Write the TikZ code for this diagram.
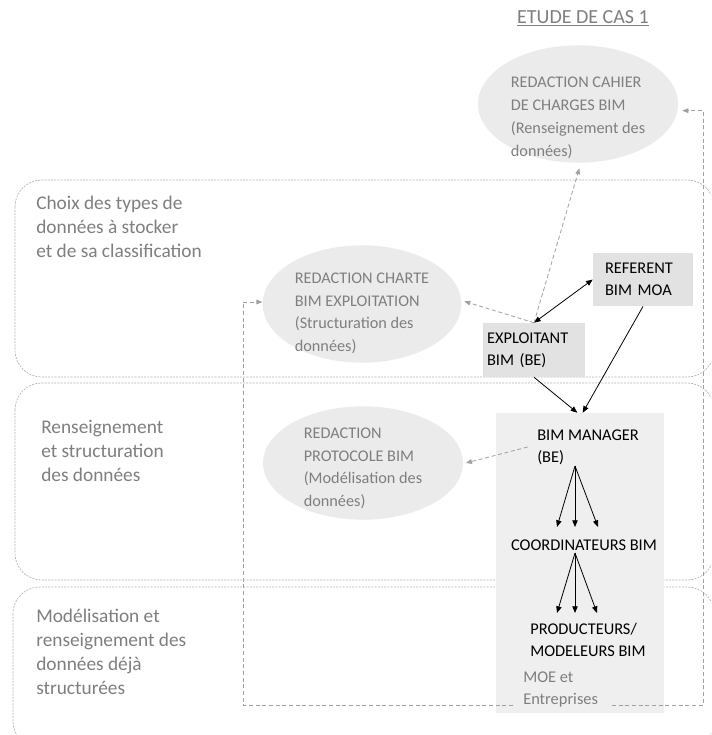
\documentclass[tikz,border=0pt]{standalone}
\usepackage{fontspec}
\setmainfont{Carlito}
\usetikzlibrary{shapes.geometric,arrows.meta}
\definecolor{gtxt}{HTML}{7F7F7F}
\definecolor{gline}{HTML}{A0A0A0}
\definecolor{bandc}{HTML}{B4B4B4}
\definecolor{ellf}{HTML}{EBEBEB}
\definecolor{boxf}{HTML}{E2E2E2}
\definecolor{bigf}{HTML}{EFEFEF}
\begin{document}
\begin{tikzpicture}[x=0.75pt,y=-0.75pt,
  band/.style={draw=bandc, dash pattern=on 1.5pt off 0.9pt, line width=0.5pt, rounded corners=20pt},
  bandlbl/.style={text=gtxt, font=\fontsize{14.5}{18}\selectfont, align=left, anchor=north west, inner sep=0pt},
  ell/.style={ellipse, fill=ellf, inner sep=0pt},
  etext/.style={text=gtxt, font=\fontsize{12.2}{17.2}\selectfont, align=left, inner sep=0pt},
  btext/.style={text=black, font=\fontsize{12.3}{16.5}\selectfont, align=left, inner sep=0pt},
  sbox/.style={fill=boxf, align=left, font=\fontsize{12.3}{16.5}\selectfont, inner ysep=0pt},
  arr/.style={draw=black, line width=0.6pt, -{Triangle[length=5pt,width=4pt]}},
  darr/.style={draw=black, line width=0.6pt, {Triangle[length=5pt,width=4pt]}-{Triangle[length=5pt,width=4pt]}},
  garr/.style={draw=gline, dash pattern=on 3pt off 2pt, line width=0.6pt, -{Triangle[length=4.5pt,width=3.5pt]}}
]
\clip (0,0) rectangle (711,735);
\fill[white] (0,0) rectangle (711,735);

% bands
\draw[band] (15,180) rectangle (714,377);
\draw[band] (15,383) rectangle (714,580);
\draw[band] (13,587) rectangle (714,748);

\node[bandlbl] (l1) at (36,196) {Choix des types de\\données à stocker\\et de sa classification};
\node[bandlbl] (l2) at (41,420) {Renseignement\\et structuration\\des données};
\node[bandlbl] (l3) at (36,609) {Modélisation et\\renseignement des\\données déjà\\structurées};

% title
\node[text=gtxt, font=\fontsize{15}{18}\selectfont, inner sep=0pt] (title) at (583,18) {\underline{ETUDE DE CAS 1}};

% ellipses
\node[ell, minimum width=150pt, minimum height=88pt] (e1) at (578,104) {};
\node[etext, yshift=-10.5pt] (e1t) at (e1) {REDACTION CAHIER\\DE CHARGES BIM\\(Renseignement des\\données)};
\node[ell, minimum width=149pt, minimum height=88pt] (e2) at (362,304) {};
\node[etext, yshift=-7pt] (e2t) at (e2) {REDACTION CHARTE\\BIM EXPLOITATION\\(Structuration des\\données)};
\node[ell, minimum width=150pt, minimum height=85pt] (e3) at (363,463) {};
\node[etext, yshift=-4pt] (e3t) at (e3) {REDACTION\\PROTOCOLE BIM\\(Modélisation des\\données)};

% boxes
\node[sbox, text width=57pt, inner xsep=9pt, minimum height=40pt] (ref) at (643,279.5) {REFERENT\\BIM MOA};
\node[sbox, text width=70.5pt, inner xsep=3pt, minimum height=40.5pt] (expl) at (534,350) {EXPLOITANT\\BIM (BE)};
\node[fill=bigf, minimum width=126pt, minimum height=225pt, inner sep=0pt] (big) at (580,563) {};

\node[btext, anchor=west] (bm) at (537,447) {BIM MANAGER\\(BE)};
\node[btext] (coord) at (584,545) {COORDINATEURS BIM};
\node[btext, anchor=west] (prod) at (530,640) {PRODUCTEURS/\\MODELEURS BIM};
\node[etext, font=\fontsize{12.3}{16.5}\selectfont, anchor=west] (moe) at (523,689) {MOE et\\Entreprises};

% fan coordinates
\coordinate (a1) at (575,466);
\coordinate (t1a) at (557,527);
\coordinate (t1b) at (575,527);
\coordinate (t1c) at (598,527);
\coordinate (a2) at (575,553);
\coordinate (t2a) at (557,613);
\coordinate (t2b) at (575,613);
\coordinate (t2c) at (597,613);

\draw[arr] (a1) -- (t1a);
\draw[arr] (a1) -- (t1b);
\draw[arr] (a1) -- (t1c);
\draw[arr] (a2) -- (t2a);
\draw[arr] (a2) -- (t2b);
\draw[arr] (a2) -- (t2c);

% connectors
\draw[darr] (expl.north) -- (ref.west);
\draw[garr] (expl.north) -- ([xshift=1,yshift=-4]e1.south);
\draw[garr] (expl.north) -- ([xshift=2,yshift=2]e2.east);
\draw[arr] (expl.south) -- ([xshift=-2]big.north);
\draw[arr] (ref.south) -- ([xshift=2]big.north);
\draw[garr] ([xshift=-7]bm.west) -- ([xshift=2]e3.east);

\coordinate (rs) at (612,705);
\coordinate (rc) at (703,705);
\draw[garr] (rs) -- (rc) |- ([xshift=3,yshift=-5]e1.east);
\coordinate (ls) at (513,705);
\coordinate (lc) at (243,705);
\draw[garr] (ls) -- (lc) |- ([yshift=1.5]e2.west);
\end{tikzpicture}
\end{document}
